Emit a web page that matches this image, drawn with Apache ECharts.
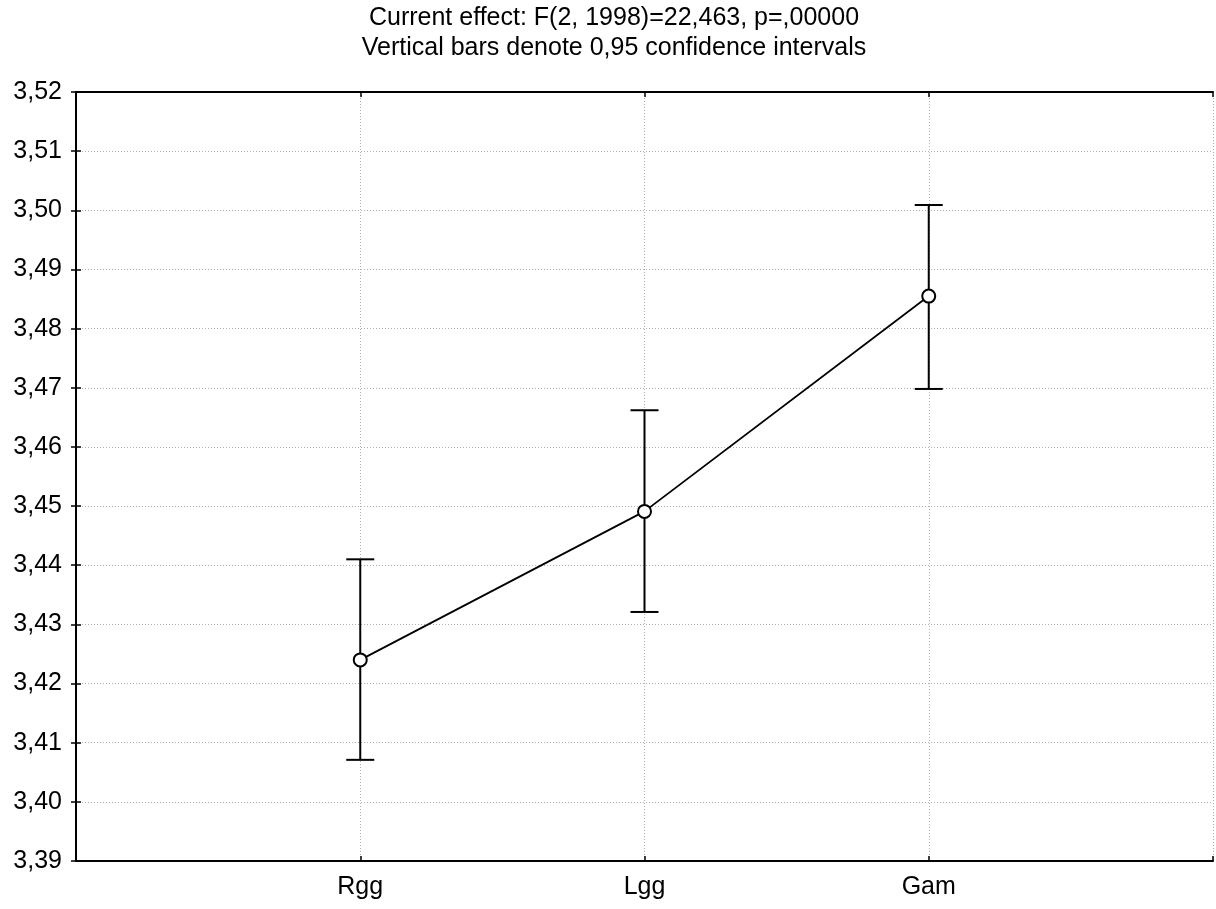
<!DOCTYPE html>
<html>
<head>
<meta charset="utf-8">
<script src="https://cdn.jsdelivr.net/npm/echarts@6/dist/echarts.min.js"></script>
<style>
  html, body { margin: 0; padding: 0; background: #fff; }
  #chart { width: 1216px; height: 909px; }
</style>
</head>
<body>
<div id="chart"></div>
<script>
// Group names and their means with 0,95 confidence limits
const categories = ['Rgg', 'Lgg', 'Gam'];
const means = [3.4240, 3.4491, 3.4855];
const lower = [3.4071, 3.4321, 3.4698];
const upper = [3.4410, 3.4662, 3.5009];

const titleLines = [
  'Current effect: F(2, 1998)=22,463, p=,00000',
  'Vertical bars denote 0,95 confidence intervals'
];

const yMin = 3.39, yMax = 3.52, yStep = 0.01;

const font = 'Liberation Sans, Arial, sans-serif';

// Groups sit at x = 1..n on a value axis that spans 0..n+1
const meanPoints = means.map((m, i) => [i + 1, m]);
const barData = categories.map((c, i) => [i + 1, lower[i], upper[i]]);

const fmtY = v => v.toFixed(2).replace('.', ',');
const fmtX = v => {
  const i = Math.round(v) - 1;
  return (i >= 0 && i < categories.length && Math.abs(v - Math.round(v)) < 1e-6) ? categories[i] : '';
};

const chart = echarts.init(document.getElementById('chart'), null, { renderer: 'canvas' });

const gridLine = { show: true, lineStyle: { color: '#b0b0b0', type: [1, 2], width: 1 } };
const frameLine = { show: true, lineStyle: { color: '#000', width: 2 } };
const innerTick = { show: true, inside: true, length: 5, lineStyle: { color: '#000', width: 1.5 } };

chart.setOption({
  animation: false,
  backgroundColor: '#fff',
  title: {
    text: titleLines.join('\n'),
    left: 609,
    top: -2,
    textAlign: 'center',
    textStyle: { fontFamily: font, fontSize: 25, fontWeight: 'normal', color: '#000', lineHeight: 30 }
  },
  grid: { left: 76, right: 0, top: 92, bottom: 48, containLabel: false },
  xAxis: [
    {
      type: 'value', position: 'bottom',
      min: 0, max: categories.length + 1, interval: 1,
      axisLine: frameLine, axisTick: innerTick, splitLine: gridLine,
      axisLabel: { formatter: fmtX, fontFamily: font, fontSize: 25, color: '#000', margin: 14 }
    },
    {
      type: 'value', position: 'top',
      min: 0, max: categories.length + 1, interval: 1,
      axisLine: frameLine, axisTick: innerTick, splitLine: { show: false },
      axisLabel: { show: false }
    }
  ],
  yAxis: [
    {
      type: 'value', position: 'left',
      min: yMin, max: yMax, interval: yStep,
      axisLine: frameLine, axisTick: innerTick, splitLine: gridLine,
      axisLabel: { formatter: fmtY, fontFamily: font, fontSize: 25, color: '#000', margin: 14 }
    },
    {
      type: 'value', position: 'right',
      min: yMin, max: yMax, interval: yStep,
      axisLine: frameLine, axisTick: innerTick, splitLine: { show: false },
      axisLabel: { show: false }
    }
  ],
  series: [
    {
      // confidence interval whiskers
      type: 'custom',
      xAxisIndex: 0, yAxisIndex: 0,
      data: barData,
      z: 3,
      renderItem: (params, api) => {
        const x = api.value(0);
        const lo = api.coord([x, api.value(1)]);
        const hi = api.coord([x, api.value(2)]);
        const cap = 14;
        const style = { stroke: '#000', lineWidth: 2 };
        return {
          type: 'group',
          children: [
            { type: 'line', shape: { x1: lo[0], y1: lo[1], x2: hi[0], y2: hi[1] }, style },
            { type: 'line', shape: { x1: lo[0] - cap, y1: lo[1], x2: lo[0] + cap, y2: lo[1] }, style },
            { type: 'line', shape: { x1: hi[0] - cap, y1: hi[1], x2: hi[0] + cap, y2: hi[1] }, style }
          ]
        };
      }
    },
    {
      // group means
      type: 'line',
      xAxisIndex: 0, yAxisIndex: 0,
      data: meanPoints,
      z: 4,
      symbol: 'circle',
      symbolSize: 13,
      showAllSymbols: true,
      lineStyle: { color: '#000', width: 1.8 },
      itemStyle: { color: '#fff', borderColor: '#000', borderWidth: 2 }
    }
  ]
});
</script>
</body>
</html>
